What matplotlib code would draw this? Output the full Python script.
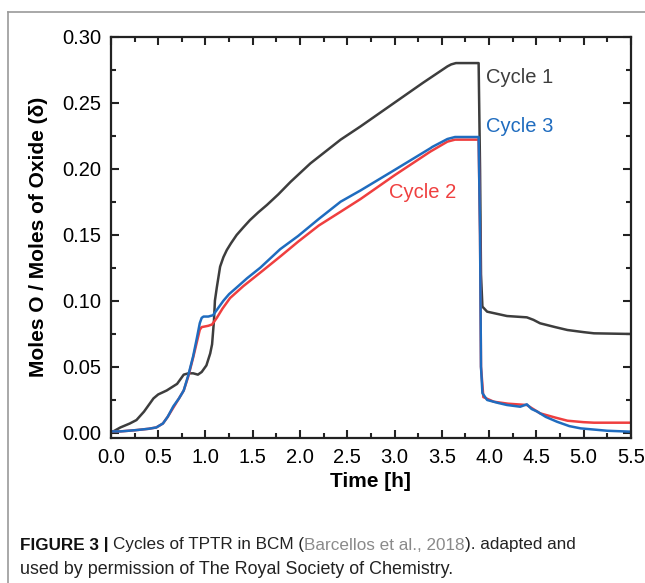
import matplotlib.pyplot as plt
from matplotlib.ticker import MultipleLocator
from matplotlib.lines import Line2D

plt.rcParams['font.family'] = ['Liberation Sans', 'DejaVu Sans']

# Cycle 1
t1 = [0.0, 0.1, 0.2, 0.27, 0.35, 0.40, 0.45, 0.50, 0.59, 0.70, 0.77, 0.82, 0.87, 0.92,
      0.96, 1.01, 1.05, 1.07, 1.09, 1.10, 1.12, 1.155, 1.19, 1.226, 1.27, 1.33, 1.40,
      1.47, 1.56, 1.65, 1.77, 1.90, 2.11, 2.43, 2.64, 3.00, 3.30, 3.56, 3.60, 3.65, 3.89,
      3.905, 3.915, 3.93, 3.98, 4.19, 4.40, 4.47, 4.54, 4.70, 4.83, 5.00, 5.11, 5.50]
d1 = [0.0, 0.004, 0.007, 0.0096, 0.016, 0.021, 0.026, 0.029, 0.032, 0.037, 0.044, 0.045,
      0.045, 0.044, 0.046, 0.051, 0.060, 0.067, 0.085, 0.100, 0.110, 0.1258, 0.133,
      0.1384, 0.1435, 0.1498, 0.1555, 0.161, 0.167, 0.1725, 0.1805, 0.190, 0.204, 0.222,
      0.232, 0.250, 0.265, 0.2775, 0.279, 0.280, 0.280, 0.200, 0.120, 0.0955, 0.0917,
      0.0884, 0.0874, 0.0855, 0.0829, 0.080, 0.0778, 0.0762, 0.0753, 0.0748]

# Cycle 2
t2 = [0.0, 0.1, 0.27, 0.40, 0.48, 0.55, 0.60, 0.66, 0.72, 0.77, 0.82, 0.87, 0.91, 0.94,
      0.96, 1.03, 1.07, 1.12, 1.18, 1.26, 1.40, 1.61, 1.80, 1.98, 2.20, 2.43, 2.64, 3.00,
      3.38, 3.56, 3.64, 3.89, 3.905, 3.915, 3.94, 4.05, 4.20, 4.40, 4.54, 4.70, 4.83,
      5.00, 5.11, 5.50]
d2 = [0.001, 0.001, 0.002, 0.003, 0.004, 0.007, 0.012, 0.019, 0.026, 0.032, 0.043, 0.057,
      0.069, 0.078, 0.080, 0.081, 0.082, 0.087, 0.094, 0.102, 0.111, 0.123, 0.134, 0.1447,
      0.157, 0.1674, 0.177, 0.195, 0.213, 0.2205, 0.222, 0.222, 0.150, 0.050, 0.027,
      0.0235, 0.022, 0.021, 0.0147, 0.0115, 0.0091, 0.008, 0.0076, 0.0076]

# Cycle 3
t3 = [0.0, 0.1, 0.27, 0.40, 0.48, 0.55, 0.60, 0.66, 0.72, 0.77, 0.82, 0.87, 0.91, 0.94,
      0.96, 0.98, 1.03, 1.08, 1.12, 1.19, 1.25, 1.33, 1.44, 1.58, 1.79, 1.98, 2.20, 2.43,
      2.64, 3.00, 3.38, 3.40, 3.56, 3.64, 3.89, 3.905, 3.915, 3.93, 3.98, 4.10, 4.19, 4.33,
      4.40, 4.45, 4.51, 4.60, 4.72, 4.85, 4.97, 5.25, 5.50]
d3 = [0.001, 0.001, 0.002, 0.003, 0.004, 0.007, 0.012, 0.020, 0.026, 0.032, 0.044, 0.058,
      0.072, 0.083, 0.087, 0.088, 0.088, 0.089, 0.093, 0.100, 0.105, 0.110, 0.117, 0.125,
      0.139, 0.149, 0.162, 0.175, 0.1835, 0.199, 0.2155, 0.2165, 0.2225, 0.224, 0.224,
      0.150, 0.050, 0.030, 0.0248, 0.0225, 0.021, 0.0197, 0.0215, 0.018, 0.016, 0.012,
      0.0083, 0.005, 0.0033, 0.0015, 0.0008]

labels = ['Cycle 1', 'Cycle 2', 'Cycle 3']
colors = ['#3d3d3d', '#ef3f3f', '#1f6cbf']

fig = plt.figure(figsize=(6.45, 5.83), dpi=100)
ax = fig.add_axes([0.172, 0.2487, 0.806, 0.6884])

ax.plot(t1, d1, color=colors[0], lw=1.8)
ax.plot(t2, d2, color=colors[1], lw=1.8)
ax.plot(t3, d3, color=colors[2], lw=1.8)

ax.text(3.97, 0.269, labels[0], color=colors[0], fontsize=14.5, va='center')
ax.text(2.94, 0.1816, labels[1], color=colors[1], fontsize=14.5, va='center')
ax.text(3.97, 0.2316, labels[2], color=colors[2], fontsize=14.5, va='center')

ax.set_xlim(0, 5.5)
ax.set_ylim(-0.004, 0.30)
ax.xaxis.set_major_locator(MultipleLocator(0.5))
ax.xaxis.set_minor_locator(MultipleLocator(0.25))
ax.yaxis.set_major_locator(MultipleLocator(0.05))
ax.yaxis.set_minor_locator(MultipleLocator(0.025))
ax.xaxis.set_major_formatter(plt.FuncFormatter(lambda v, p: f"{v:.1f}"))
ax.yaxis.set_major_formatter(plt.FuncFormatter(lambda v, p: f"{v:.2f}"))
ax.tick_params(which='both', direction='in', top=True, right=True, width=1.5,
               labelsize=14.5, color='#222222')
ax.tick_params(which='major', length=6, pad=7)
ax.tick_params(which='minor', length=3.5)
for s in ax.spines.values():
    s.set_linewidth(1.6)
    s.set_color('#222222')

ax.set_xlabel('Time [h]', fontsize=15, fontweight='bold', labelpad=4)
ax.set_ylabel('Moles O / Moles of Oxide (δ)', fontsize=15, fontweight='bold', labelpad=10)

# thin gray frame around the figure panel
fig.add_artist(Line2D([8 / 645, 8 / 645], [0, 1 - 12 / 583], color='#9a9a9a', lw=1.2,
                      transform=fig.transFigure))
fig.add_artist(Line2D([8 / 645, 1], [1 - 12 / 583, 1 - 12 / 583], color='#9a9a9a', lw=1.2,
                      transform=fig.transFigure))

# caption, built piece by piece
pieces = [("FIGURE 3", 'bold', '#111111'), (" | ", 'bold', '#111111'),
          ("Cycles of TPTR in BCM (", 'normal', '#222222'),
          ("Barcellos et al., 2018", 'normal', '#8a8a8a'),
          ("). adapted and", 'normal', '#222222')]
renderer = fig.canvas.get_renderer()
x = 20 / 645
y1 = 1 - 545 / 583
for txt, w, c in pieces:
    t = fig.text(x, y1, txt, fontsize=12.3, fontweight=w, color=c, va='center')
    bb = t.get_window_extent(renderer=renderer)
    x += bb.width / fig.bbox.width
fig.text(20 / 645, 1 - 569 / 583, "used by permission of The Royal Society of Chemistry.",
         fontsize=12.9, color='#222222', va='center')

fig.savefig('out.png', dpi=100)
